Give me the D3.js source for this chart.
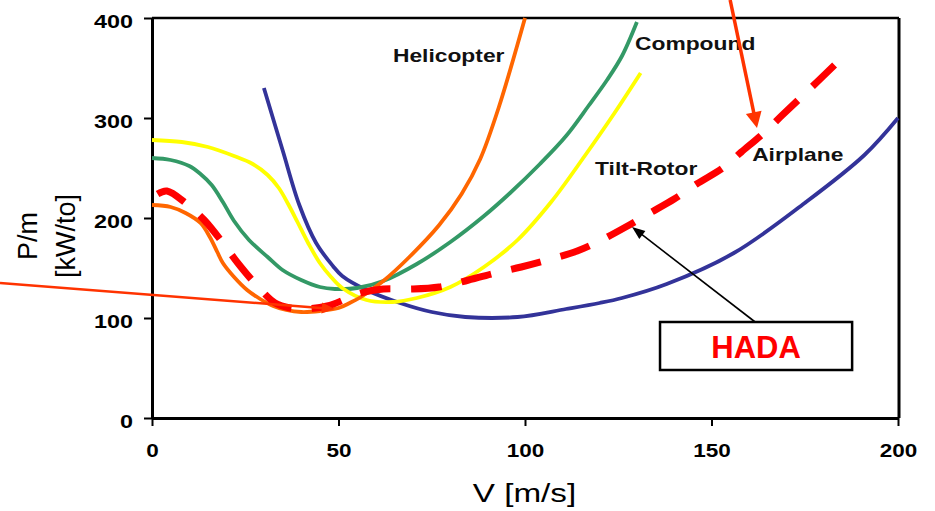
<!DOCTYPE html>
<html>
<head>
<meta charset="utf-8">
<script src="https://cdn.jsdelivr.net/npm/d3@7"></script>
<style>
  body { margin: 0; background: #fff; }
  svg { display: block; font-family: "Liberation Sans", Arial, sans-serif; }
</style>
</head>
<body>
<svg id="chart" width="935" height="511"></svg>
<script>
// curves: V [m/s] vs P/m [kW/to]
var heli_v = [0, 5, 9, 13, 15.5, 17.5, 19, 22, 25.5, 29, 32.5, 36, 40, 45, 50, 53, 56, 62, 69, 77, 83, 88, 93, 100];
var heli_p = [213, 211, 205, 195, 181, 166, 155, 141, 128, 119, 112, 108, 106, 107, 110, 115, 121, 137, 161, 193, 224, 259, 311, 400];

var comp_v = [0, 5, 10, 13, 16, 19, 22, 26, 31, 35, 40, 45, 49, 55, 62, 71, 80, 89, 96, 104, 111, 117, 122, 126, 130];
var comp_p = [260, 258, 252, 244, 233, 216, 197, 178, 161, 148, 138, 131, 129, 130, 137, 154, 176, 202, 225, 254, 282, 312, 338, 362, 396];

var tilt_v = [0, 8, 15, 22, 27, 31, 34, 36.5, 39, 42, 45, 48, 51, 57.5, 64.5, 71, 80, 89, 98, 107, 116, 124, 131];
var tilt_p = [278, 276, 271, 262, 254, 243, 230, 214, 196, 174, 155, 141, 130, 118, 116, 120, 131, 151, 178, 216, 262, 305, 345];

var plane_v = [30, 35, 39.5, 44, 48.5, 51, 57.5, 66.5, 75, 84, 98, 111, 120, 126, 138, 156, 175, 191, 200];
var plane_p = [330, 268, 213, 175, 152, 142, 128, 115, 106, 101, 101, 109, 115, 120, 134, 165, 215, 263, 300];

var hada_v = [1.5, 4, 9, 14, 19, 23, 28, 33, 37, 41, 47, 52, 56, 62, 70, 77, 84, 91, 99, 106, 114, 120, 127, 133, 140, 146, 153, 158, 164, 169, 175.5, 183];
var hada_p = [224, 227, 215, 198, 175, 155, 133, 115, 110, 109, 112, 119, 125, 129, 129, 131, 137, 144, 151, 158, 167, 177, 191, 204, 219, 234, 250, 266, 285, 303, 326, 353];

var x_ticks = [0, 50, 100, 150, 200];
var y_ticks = [0, 100, 200, 300, 400];

// curve labels, anchored in data units
var label_text = ['Helicopter', 'Compound', 'Tilt-Rotor', 'Airplane'];
var label_v    = [64.6, 129.5, 118.8, 160.9];
var label_p    = [356, 368, 243, 257];

// annotation arrows in data units
var red_arrows = [
  {from: [-40.75, 135], to: [49, 109], sw: 2.5, hl: 13, hw: 11},
  {from: [155, 418], to: [162.2, 290], sw: 3.5, hl: 16, hw: 16}
];
var hada_arrow = {from: [161.7, 96], to: [128.7, 191], sw: 1.6, hl: 13, hw: 10};
var hada_box_v = [136.2, 187.7];
var hada_box_p = [48, 96];

var series = [
  {v: plane_v, p: plane_p, color: '#333399'},
  {v: comp_v,  p: comp_p,  color: '#339966'},
  {v: tilt_v,  p: tilt_p,  color: '#FFFF00'},
  {v: heli_v,  p: heli_p,  color: '#FF6600'}
];

var margin = {left: 152, top: 18, right: 37, bottom: 93};
var width  = 935 - margin.left - margin.right;
var height = 511 - margin.top - margin.bottom;

var svg = d3.select('#chart');
var g = svg.append('g').attr('transform', `translate(${margin.left},${margin.top})`);

var x = d3.scaleLinear().domain([0, 200]).range([0, width]);
var y = d3.scaleLinear().domain([0, 400]).range([height, 0]);

// the original is a bit stretched sideways, so widen text to match
var stretch = (sel, k) => {
  sel.each(function() {
    var w = this.getComputedTextLength();
    d3.select(this).attr('textLength', w * k).attr('lengthAdjust', 'spacingAndGlyphs');
  });
};

var line = d3.line()
  .x((d) => x(d[0]))
  .y((d) => y(d[1]))
  .curve(d3.curveCatmullRom.alpha(0.5));

// axes
var gx = g.append('g')
  .attr('transform', `translate(0,${height})`)
  .call(d3.axisBottom(x).tickValues(x_ticks).tickSize(8).tickPadding(18).tickSizeOuter(0));

var gy = g.append('g')
  .call(d3.axisLeft(y).tickValues(y_ticks).tickSize(8).tickPadding(11).tickSizeOuter(0));

[gx, gy].forEach((a) => {
  a.select('.domain').attr('stroke', '#000').attr('stroke-width', 3);
  a.selectAll('.tick line').attr('stroke', '#000').attr('stroke-width', 2);
  a.selectAll('.tick text')
    .attr('fill', '#000')
    .attr('font-size', 18)
    .attr('font-weight', 'bold')
    .attr('font-family', '"Liberation Sans", Arial, sans-serif');
});
gy.selectAll('.tick text').attr('dy', '0.52em');
stretch(gx.selectAll('.tick text'), 1.25);
stretch(gy.selectAll('.tick text'), 1.3);

// frame: top and right
g.append('line')
  .attr('x1', 0).attr('x2', x(200) + 1)
  .attr('y1', y(400)).attr('y2', y(400))
  .attr('stroke', '#000').attr('stroke-width', 2.5);
g.append('line')
  .attr('x1', x(200) + 1).attr('x2', x(200) + 1)
  .attr('y1', y(400)).attr('y2', y(0))
  .attr('stroke', '#000').attr('stroke-width', 3);

// curves
g.selectAll('path.curve')
  .data(series)
  .enter()
  .append('path')
  .attr('class', 'curve')
  .attr('d', (s) => line(s.v.map((v, i) => [v, s.p[i]])))
  .attr('fill', 'none')
  .attr('stroke', (s) => s.color)
  .attr('stroke-width', 3.8);

var hada = g.append('path')
  .attr('d', line(hada_v.map((v, i) => [v, hada_p[i]])))
  .attr('fill', 'none')
  .attr('stroke', '#FF0000')
  .attr('stroke-width', 7);

// fit a ~30/20 dash pattern so the curve starts and ends on a dash
var hada_len = hada.node().getTotalLength();
var n_dash = Math.round((hada_len + 20) / 50);
var k_dash = hada_len / (n_dash * 30 + (n_dash - 1) * 20);
hada.attr('stroke-dasharray', `${30 * k_dash},${20 * k_dash}`);

// curve labels
var labels = g.selectAll('text.curve-label')
  .data(label_text)
  .enter()
  .append('text')
  .attr('class', 'curve-label')
  .attr('x', (d, i) => x(label_v[i]))
  .attr('y', (d, i) => y(label_p[i]))
  .attr('font-size', 19)
  .attr('font-weight', 'bold')
  .attr('fill', '#111')
  .text((d) => d);
stretch(labels, 1.2);

// arrows
var draw_arrow = (a, color) => {
  var x0 = x(a.from[0]), y0 = y(a.from[1]);
  var x1 = x(a.to[0]),   y1 = y(a.to[1]);
  var len = Math.hypot(x1 - x0, y1 - y0);
  var ux = (x1 - x0) / len, uy = (y1 - y0) / len;
  var bx = x1 - ux * a.hl, by = y1 - uy * a.hl;

  g.append('line')
    .attr('x1', x0).attr('y1', y0)
    .attr('x2', bx + ux * 2).attr('y2', by + uy * 2)
    .attr('stroke', color)
    .attr('stroke-width', a.sw);

  g.append('path')
    .attr('d', `M${x1},${y1}L${bx - uy * a.hw / 2},${by + ux * a.hw / 2}L${bx + uy * a.hw / 2},${by - ux * a.hw / 2}Z`)
    .attr('fill', color);
};

red_arrows.forEach((a) => draw_arrow(a, '#FF3300'));
draw_arrow(hada_arrow, '#000');

// HADA box
g.append('rect')
  .attr('x', x(hada_box_v[0]))
  .attr('y', y(hada_box_p[1]))
  .attr('width', x(hada_box_v[1]) - x(hada_box_v[0]))
  .attr('height', y(hada_box_p[0]) - y(hada_box_p[1]))
  .attr('fill', '#fff')
  .attr('stroke', '#000')
  .attr('stroke-width', 2.5);

g.append('text')
  .attr('x', (x(hada_box_v[0]) + x(hada_box_v[1])) / 2)
  .attr('y', y(60))
  .attr('text-anchor', 'middle')
  .attr('font-size', 31)
  .attr('font-weight', 'bold')
  .attr('fill', '#FF0000')
  .text('HADA');

// axis titles
var xt = g.append('text')
  .attr('x', width / 2 - 0.5)
  .attr('y', height + 84)
  .attr('text-anchor', 'middle')
  .attr('font-size', 25)
  .attr('fill', '#000')
  .text('V [m/s]');
stretch(xt, 1.33);

var yt = svg.append('g')
  .attr('transform', `translate(0,${margin.top + y(182)}) rotate(-90)`);
yt.append('text')
  .attr('x', 0)
  .attr('y', 37)
  .attr('text-anchor', 'middle')
  .attr('font-size', 27)
  .attr('fill', '#000')
  .text('P/m');
yt.append('text')
  .attr('x', 0)
  .attr('y', 75)
  .attr('text-anchor', 'middle')
  .attr('font-size', 27)
  .attr('fill', '#000')
  .text('[kW/to]');
</script>
</body>
</html>
